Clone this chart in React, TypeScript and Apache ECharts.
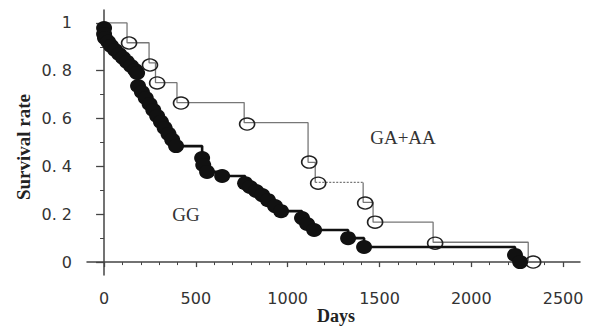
import React, { useEffect, useRef } from "react";
import * as echarts from "echarts";

// GA+AA group: step line (event day, survival after event)
const gaDays = [0, 125, 245, 280, 397, 763, 1111, 1150, 1411, 1465, 1792, 2310];
const gaSurv = [1, 0.917, 0.833, 0.75, 0.667, 0.583, 0.417, 0.333, 0.25, 0.167, 0.083, 0];
// GA+AA open-circle marks
const gaMarkDays = [136, 250, 289, 419, 779, 1117, 1166, 1422, 1476, 1803, 2337];
const gaMarkSurv = [0.916, 0.824, 0.749, 0.665, 0.577, 0.418, 0.33, 0.247, 0.167, 0.079, 0];

// GG group: filled-circle marks (also the step points)
const ggMarkDays = [0, 0, 5, 22, 38, 60, 82, 103, 125, 147, 169, 180, 185, 206, 227, 248, 268, 289, 310, 330, 351, 371, 392, 534, 540, 561, 643, 768, 795, 828, 861, 893, 931, 964, 1078, 1106, 1144, 1329, 1416, 2238, 2266];
const ggMarkSurv = [0.979, 0.954, 0.937, 0.921, 0.904, 0.887, 0.87, 0.854, 0.837, 0.82, 0.803, 0.791, 0.736, 0.711, 0.686, 0.661, 0.636, 0.611, 0.586, 0.561, 0.536, 0.511, 0.485, 0.435, 0.406, 0.377, 0.36, 0.33, 0.314, 0.297, 0.28, 0.259, 0.234, 0.213, 0.184, 0.159, 0.134, 0.1, 0.063, 0.03, 0];

const xMajorTicks = [0, 500, 1000, 1500, 2000, 2500];
const xMinorTicks = [100, 200, 300, 400, 600, 700, 800, 900, 1100, 1200, 1300, 1400, 1600, 1700, 1800, 1900, 2100, 2200, 2300, 2400];
const yMajorTicks = [0, 0.2, 0.4, 0.6, 0.8, 1];
const yMinorTicks = [0.1, 0.3, 0.5, 0.7, 0.9];

const groupLabels = ["GA+AA", "GG"];
const xTitle = "Days";
const yTitle = "Survival rate";

// index where the dotted segment of GA+AA starts
const gaDottedIndex = 7;

export default function App() {
  const ref = useRef<HTMLDivElement>(null);
  useEffect(() => {
    if (!ref.current) return;
    const chart = echarts.init(ref.current, undefined, { renderer: "svg" });

    const gaPts = gaDays.map((d, i) => [d, gaSurv[i]]);
    const gaSolidA = gaPts.slice(0, gaDottedIndex + 1);
    const gaDotted = [gaPts[gaDottedIndex], [gaDays[gaDottedIndex + 1], gaSurv[gaDottedIndex]]];
    const gaSolidB = [[gaDays[gaDottedIndex + 1], gaSurv[gaDottedIndex]], ...gaPts.slice(gaDottedIndex + 1)];
    const gaMarks = gaMarkDays.map((d, i) => [d, gaMarkSurv[i]]);
    const ggLine = [[0, 1], ...ggMarkDays.map((d, i) => [d, ggMarkSurv[i]])];
    const ggMarks = ggMarkDays.map((d, i) => [d, ggMarkSurv[i]]);

    const axisColor = "#444";
    const labelFont = { fontFamily: "DejaVu Sans", fontSize: 16, color: "#333" };

    const gaLineStyle = { color: "#777", width: 1.3 };

    chart.setOption({
      animation: false,
      grid: { left: 87, right: 10, top: 10, bottom: 52 },
      xAxis: [
        {
          type: "value",
          min: -93,
          max: 2592,
          offset: 5,
          position: "bottom",
          splitLine: { show: false },
          axisLine: { show: true, lineStyle: { color: axisColor, width: 1.5 } },
          axisTick: { show: true, customValues: xMajorTicks, length: 5, lineStyle: { color: axisColor, width: 1.3 } },
          axisLabel: { customValues: xMajorTicks, margin: 10, ...labelFont, formatter: (v: number) => String(v) },
        },
        {
          type: "value",
          min: -93,
          max: 2592,
          offset: 5,
          position: "bottom",
          splitLine: { show: false },
          axisLine: { show: false },
          axisTick: { show: true, customValues: xMinorTicks, length: 3, lineStyle: { color: axisColor, width: 1 } },
          axisLabel: { show: false },
        },
      ],
      yAxis: [
        {
          type: "value",
          min: -0.054,
          max: 1.054,
          position: "left",
          splitLine: { show: false },
          axisLine: { show: true, lineStyle: { color: axisColor, width: 1.5 } },
          axisTick: { show: true, customValues: yMajorTicks, length: 8, lineStyle: { color: axisColor, width: 1.3 } },
          axisLabel: {
            customValues: yMajorTicks,
            margin: 15,
            ...labelFont,
            formatter: (v: number) => (v === 0 ? "0" : v === 1 ? "1" : v.toFixed(1).replace(".", ". ")),
          },
        },
        {
          type: "value",
          min: -0.054,
          max: 1.054,
          position: "left",
          splitLine: { show: false },
          axisLine: { show: false },
          axisTick: { show: true, customValues: yMinorTicks, length: 4, lineStyle: { color: axisColor, width: 1 } },
          axisLabel: { show: false },
        },
      ],
      graphic: [
        {
          type: "text",
          x: 23,
          y: 147,
          rotation: Math.PI / 2,
          style: {
            text: yTitle,
            align: "center",
            verticalAlign: "middle",
            font: "bold 19px 'Liberation Serif', 'DejaVu Serif', serif",
            fill: "#222",
          },
        },
        {
          type: "text",
          x: 336,
          y: 316,
          style: {
            text: xTitle,
            align: "center",
            verticalAlign: "middle",
            font: "bold 18px 'Liberation Serif', 'DejaVu Serif', serif",
            fill: "#222",
          },
        },
        {
          type: "text",
          x: 403,
          y: 137,
          style: {
            text: groupLabels[0],
            align: "center",
            verticalAlign: "middle",
            font: "19px 'Liberation Serif', 'DejaVu Serif', serif",
            fill: "#333",
          },
        },
        {
          type: "text",
          x: 186,
          y: 214,
          style: {
            text: groupLabels[1],
            align: "center",
            verticalAlign: "middle",
            font: "19px 'Liberation Serif', 'DejaVu Serif', serif",
            fill: "#333",
          },
        },
      ],
      series: [
        { type: "line", step: "end", data: gaSolidA, showSymbol: false, lineStyle: gaLineStyle, z: 2 },
        { type: "line", data: gaDotted, showSymbol: false, lineStyle: { ...gaLineStyle, type: [2, 1.5] }, z: 2 },
        { type: "line", step: "end", data: gaSolidB, showSymbol: false, lineStyle: gaLineStyle, z: 2 },
        {
          type: "scatter",
          data: gaMarks,
          symbol: "circle",
          symbolSize: [15, 12],
          itemStyle: { color: "rgba(255,255,255,0)", borderColor: "#222", borderWidth: 1.5, opacity: 1 },
          z: 3,
        },
        { type: "line", step: "end", data: ggLine, showSymbol: false, lineStyle: { color: "#111", width: 2.6 }, z: 4 },
        {
          type: "scatter",
          data: ggMarks,
          symbol: "circle",
          symbolSize: [16, 14],
          itemStyle: { color: "#111", opacity: 1 },
          z: 5,
        },
      ],
    });
    return () => chart.dispose();
  }, []);
  return <div ref={ref} style={{ width: 590, height: 327, position: "absolute", left: 0, top: 0 }} />;
}
